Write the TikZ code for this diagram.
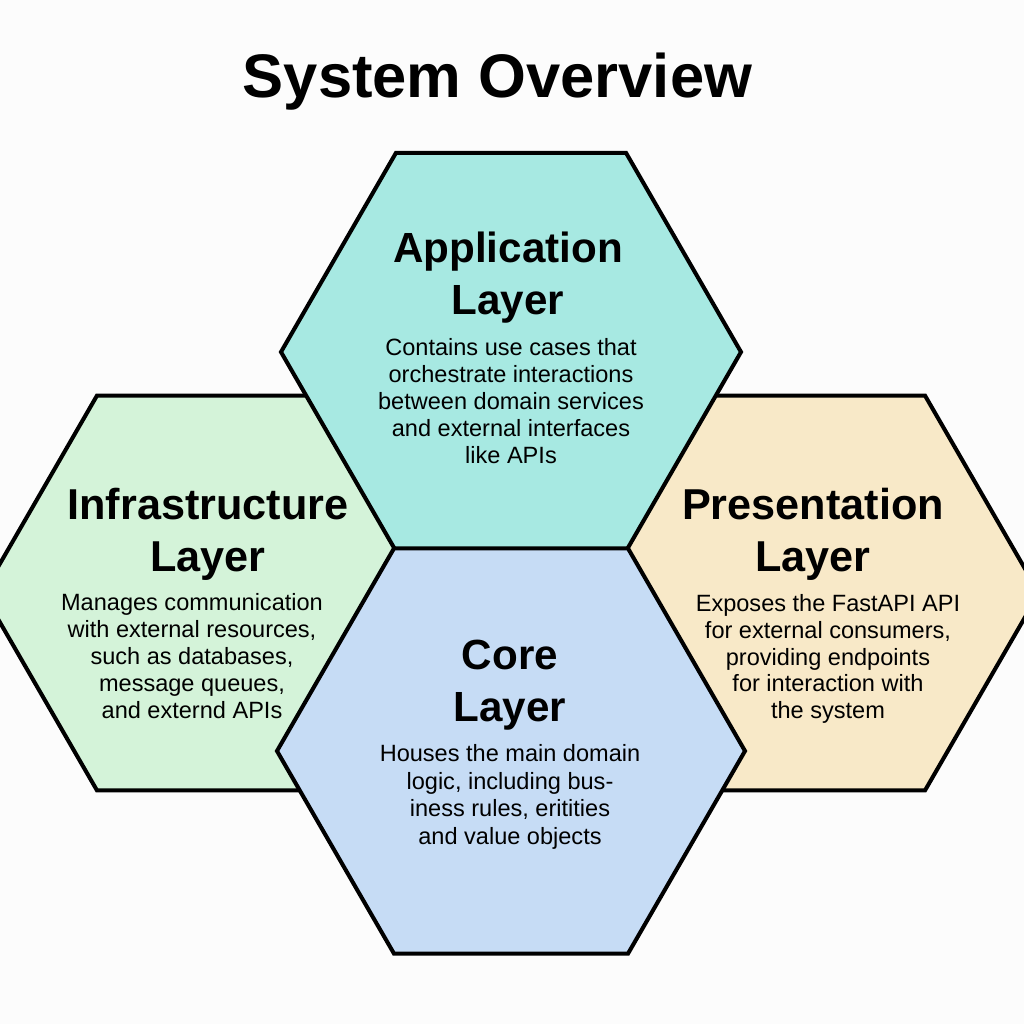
\documentclass[tikz,border=0pt]{standalone}
\usepackage{fontspec}
\setmainfont{Liberation Sans}
\usepackage{xcolor}
\usetikzlibrary{shapes.geometric,positioning}

\definecolor{appfill}{HTML}{A7E9E2}
\definecolor{infrafill}{HTML}{D4F3D9}
\definecolor{presfill}{HTML}{F8E9C8}
\definecolor{corefill}{HTML}{C6DCF5}
\definecolor{bgcol}{HTML}{FCFCFC}

\begin{document}
\begin{tikzpicture}[
    layerhex/.style={regular polygon, regular polygon sides=6, draw=black, line width=2.3pt, line join=miter, minimum size=9.28cm, inner sep=0pt},
    sidehex/.style={layerhex, minimum size=9.12cm},
    headtext/.style={align=center, font=\fontsize{24}{29.5}\selectfont\bfseries},
    bodytext/.style={align=center, font=\fontsize{13.4}{15.3}\selectfont},
    titletext/.style={font=\fontsize{35}{40}\selectfont\bfseries}
]

% Page and background
\fill[bgcol] (0,0) rectangle (20.48,20.48);
\useasboundingbox (0,0) rectangle (20.48,20.48);

% Title
\node[titletext] (title) at (9.95,18.84) {System Overview};

% Side hexagons first, then the middle column on top
\node[sidehex, fill=infrafill] (infraHex) at (4.22,8.62) {};
\node[sidehex, fill=presfill] (presHex) at (16.22,8.62) {};
\node[layerhex, fill=appfill, minimum size=9.2cm] (appHex) at (10.22,13.44) {};
\node[layerhex, fill=corefill, minimum size=9.36cm] (coreHex) at (10.22,5.46) {};

% Application layer
\node[headtext] (appHead) at (10.16,14.92) {Application\\Layer};
\node[bodytext] (appBody) at (10.22,12.46) {Contains use cases that\\orchestrate interactions\\between domain services\\and external interfaces\\like APIs};

% Infrastructure layer
\node[headtext, font=\fontsize{24.6}{29.5}\selectfont\bfseries] (infraHead) at (4.16,9.80) {Infrastructure\\Layer};
\node[bodytext] (infraBody) at (3.84,7.36) {Manages communication\\with external resources,\\such as databases,\\message queues,\\and externd APIs};

% Presentation layer
\node[headtext, font=\fontsize{24.6}{29.5}\selectfont\bfseries] (presHead) at (16.26,9.80) {Presentation\\Layer};
\node[bodytext] (presBody) at (16.56,7.30) {Exposes the FastAPI API\\for external consumers,\\providing endpoints\\for interaction with\\the system};

% Core layer
\node[headtext] (coreHead) at (10.20,6.78) {Core\\Layer};
\node[bodytext, font=\fontsize{13.4}{15.8}\selectfont] (coreBody) at (10.20,4.54) {Houses the main domain\\logic, including bus-\\iness rules, eritities\\and value objects};

\end{tikzpicture}
\end{document}
